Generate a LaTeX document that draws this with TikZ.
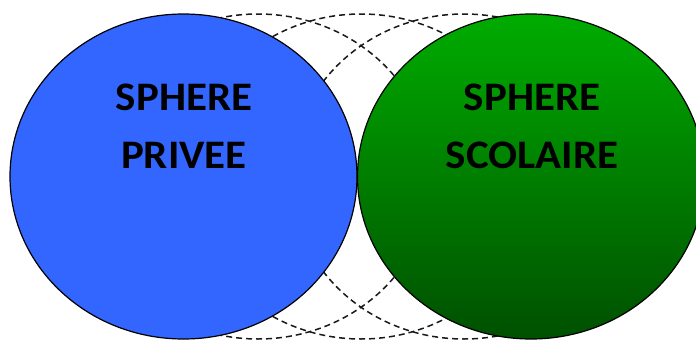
\documentclass[tikz,border=0pt]{standalone}
\usepackage{fontspec}
\setmainfont[FakeStretch=1.06]{Carlito}
\usetikzlibrary{shapes.geometric,positioning}

\definecolor{privee}{RGB}{51,102,255}
\definecolor{scolhaut}{RGB}{0,172,0}
\definecolor{scolbas}{RGB}{0,80,0}

\tikzset{
  sphere/.style={ellipse, minimum width=347pt, minimum height=325pt, inner sep=0pt, outer sep=0pt},
  trace/.style={sphere, draw=black!90, dash pattern=on 6pt off 4pt, line width=1.5pt},
  titre/.style={font=\bfseries\fontsize{40.5}{58}\selectfont, align=center, inner sep=0pt}
}

\begin{document}
\begin{tikzpicture}[x=1pt,y=-1pt]
			\useasboundingbox (0,0) rectangle (696,340);
			\clip (0,0) rectangle (696,340);

			% positions intermediaires
			\node[trace] (passeA) at (258,176.5) {};
			\node[trace] (passeB) at (361,176.5) {};
			\node[trace] (passeC) at (464,176.5) {};

			% les deux spheres
			\node[sphere, fill=privee, draw=black, line width=1.2pt] (privee) at (183.5,176.5) {};
			\node[sphere, top color=scolhaut, bottom color=scolbas, draw=black, line width=1.2pt] (scolaire) at (531,176.5) {};

			\node[titre] (txtprivee) at (184,126) {SPHERE\\PRIVEE};
			\node[titre] (txtscolaire) at (532,126) {SPHERE\\SCOLAIRE};
		\end{tikzpicture}
\end{document}
